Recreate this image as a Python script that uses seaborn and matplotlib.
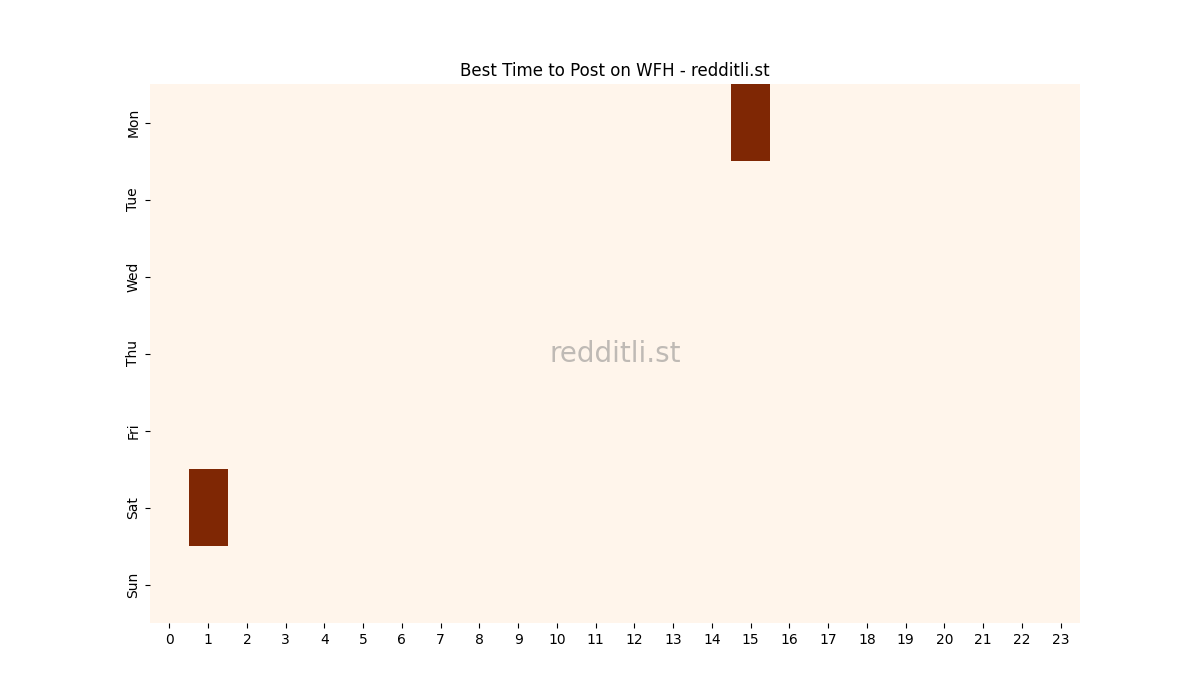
import matplotlib
matplotlib.use("Agg")
import matplotlib.pyplot as plt
import numpy as np
import pandas as pd
import seaborn as sns

# Posting activity by weekday / hour
days = ['Mon', 'Tue', 'Wed', 'Thu', 'Fri', 'Sat', 'Sun']
hours = list(range(24))
# (day, hour, count) cells that are non-zero
hot_cells = [('Mon', 15, 1), ('Sat', 1, 1)]

df = pd.DataFrame(0, index=days, columns=hours)
for d, h, v in hot_cells:
    df.loc[d, h] = v

fig, ax = plt.subplots(figsize=(12, 7))
sns.heatmap(df, cmap='Oranges', cbar=False, ax=ax)
ax.set_title('Best Time to Post on WFH - redditli.st')
ax.set_yticklabels(days, rotation=90, va='center')
ax.set_xticklabels(hours, rotation=0)
ax.text(0.5, 0.5, 'redditli.st', transform=ax.transAxes, fontsize=20,
        color='gray', alpha=0.5, ha='center', va='center')

fig.savefig('out.png', dpi=100)
